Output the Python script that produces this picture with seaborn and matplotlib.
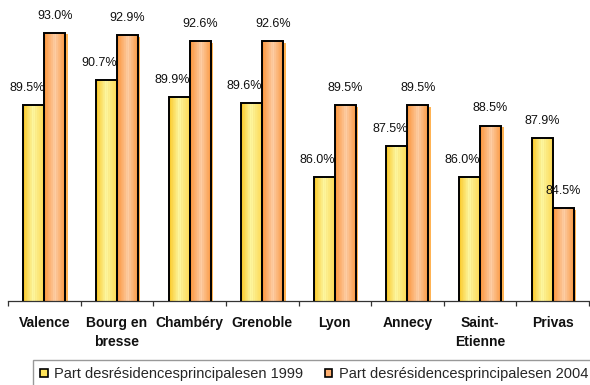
import numpy as np
import pandas as pd
import seaborn as sns
import matplotlib
matplotlib.use("Agg")
import matplotlib.pyplot as plt
from matplotlib.patches import Patch, Rectangle
from matplotlib.transforms import offset_copy

# Share of main residences per city
cities = ["Valence", "Bourg en\nbresse", "Chambéry", "Grenoble", "Lyon",
          "Annecy", "Saint-\nEtienne", "Privas"]
share_1999 = [89.5, 90.7, 89.9, 89.6, 86.0, 87.5, 86.0, 87.9]
share_2004 = [93.0, 92.9, 92.6, 92.6, 89.5, 89.5, 88.5, 84.5]
series_names = ["Part desrésidencesprincipalesen 1999",
                "Part desrésidencesprincipalesen 2004"]

df = pd.DataFrame({
    "ville": cities * 2,
    "part": share_1999 + share_2004,
    "serie": [series_names[0]] * len(cities) + [series_names[1]] * len(cities),
})

sns.set_style("white")
plt.rcParams["font.family"] = ["Liberation Sans", "DejaVu Sans"]

fig = plt.figure(figsize=(5.9, 3.85), dpi=100)
ax = fig.add_axes([8 / 590, 1 - 301 / 385, 581 / 590, 301 / 385])

sns.barplot(data=df, x="ville", y="part", hue="serie", order=cities,
            hue_order=series_names, palette=["#FFE860", "#FFB070"],
            width=0.58, edgecolor="black", linewidth=1.4, ax=ax,
            legend=False, zorder=3)

ymin, ymax = 80, 94.6


def gradient(stops, n=24, stripe=5):
    xs = np.linspace(0, 1, n)
    pos = [s[0] for s in stops]
    cols = np.array([s[1] for s in stops], dtype=float)
    rgb = np.stack([np.interp(xs, pos, cols[:, k]) for k in range(3)], axis=-1)
    # faint vertical stripes in the fill
    rgb += np.where(np.arange(n) % 2 == 0, stripe, -stripe)[:, None]
    return np.clip(rgb, 0, 255)[None, :, :] / 255.0


yellow_grad = gradient([(0, (250, 200, 40)), (0.45, (255, 246, 160)),
                        (1, (255, 215, 80))])
orange_grad = gradient([(0, (255, 150, 60)), (0.5, (255, 205, 165)),
                        (1, (252, 150, 60))])

for container, grad in zip(ax.containers, [yellow_grad, orange_grad]):
    for bar in container:
        x0 = bar.get_x()
        w = bar.get_width()
        h = bar.get_height()
        bar.set_facecolor("none")
        if grad is orange_grad:
            shadow = Rectangle((x0, ymin), w, h - ymin,
                               transform=offset_copy(ax.transData, fig=fig,
                                                     x=2.5, y=-1.5, units="dots"),
                               facecolor="#FF9A1A", edgecolor="none",
                               alpha=0.75, zorder=1)
            ax.add_patch(shadow)
        im = ax.imshow(grad, extent=(x0, x0 + w, ymin, h), aspect="auto",
                       interpolation="bilinear", zorder=2)
        im.set_clip_path(bar)

# value labels
for i, bar in enumerate(ax.containers[0]):
    v = share_1999[i]
    dx = -7 if share_2004[i] > v else 0
    ax.annotate(f"{v:.1f}%", (bar.get_x() + bar.get_width() / 2, v),
                xytext=(dx / 1.389, 12.5), textcoords="offset points",
                ha="center", va="center", fontsize=9, color="#111111")
for i, bar in enumerate(ax.containers[1]):
    v = share_2004[i]
    ax.annotate(f"{v:.1f}%", (bar.get_x() + bar.get_width() / 2, v),
                xytext=(0, 12.5), textcoords="offset points",
                ha="center", va="center", fontsize=9, color="#111111")

ax.set_ylim(ymin, ymax)
ax.set_xlim(-0.5, len(cities) - 0.5)
ax.set_xlabel("")
ax.set_ylabel("")
ax.set_yticks([])
ax.set_xticks(range(len(cities)))
ax.set_xticklabels(cities, fontsize=10, fontweight="bold", linespacing=1.45,
                   color="#111111")
ax.set_xticks(np.arange(-0.5, len(cities)), minor=True)
ax.tick_params(axis="x", which="major", length=0, pad=11)
ax.tick_params(axis="x", which="minor", length=3.5, width=0.9,
               color="#333333", direction="out", bottom=True)
for side in ["top", "left", "right"]:
    ax.spines[side].set_visible(False)
ax.spines["bottom"].set_color("#333333")
ax.spines["bottom"].set_linewidth(0.9)
ax.patch.set_alpha(0)

handles = [Patch(facecolor="#FFE45A", edgecolor="black", linewidth=1.2),
           Patch(facecolor="#FFB070", edgecolor="black", linewidth=1.2)]
leg = fig.legend(handles, series_names, loc="upper left",
                 bbox_to_anchor=(33 / 590, 1 - 360 / 385), ncol=2,
                 fontsize=10.5, frameon=True, fancybox=False, shadow=False,
                 handlelength=0.5, handleheight=0.5, handletextpad=0.45,
                 columnspacing=1.5, borderpad=0.5, borderaxespad=0)
leg.get_frame().set_edgecolor("#808080")
leg.get_frame().set_linewidth(1.0)

fig.savefig("out.png", dpi=100)
